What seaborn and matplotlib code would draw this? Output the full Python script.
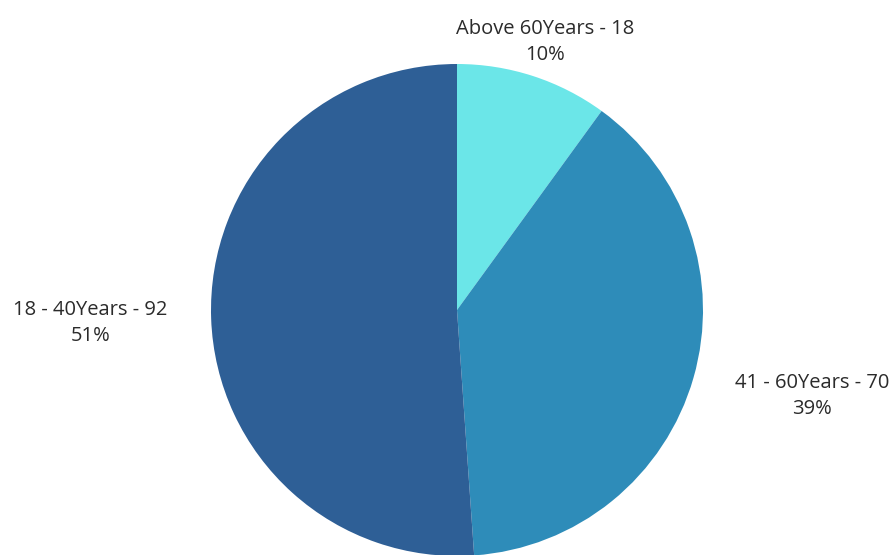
import numpy as np
import matplotlib
matplotlib.use("Agg")
import matplotlib.pyplot as plt
import seaborn as sns

categories = ["Above 60Years", "41 - 60Years", "18 - 40Years"]
values = [18, 70, 92]
colors = ["#6BE6E8", "#2E8CB9", "#2E5F96"]
label_dist = [1.16, 1.50, 1.49]
label_dy = [-0.015, 0.065, 0.0]

sns.set_theme(style="white")
plt.rcParams["font.family"] = ["Open Sans", "DejaVu Sans"]

fig = plt.figure(figsize=(8.93, 5.55), dpi=100)
ax = fig.add_axes([0, 0, 1, 1])
wedges, _ = ax.pie(values, colors=colors, startangle=90, counterclock=False,
                   radius=1.0, wedgeprops=dict(linewidth=0))
total = sum(values)
for w, cat, v, d, dy in zip(wedges, categories, values, label_dist, label_dy):
    mid = np.deg2rad((w.theta1 + w.theta2) / 2)
    x, y = d * np.cos(mid), d * np.sin(mid) + dy
    ax.text(x, y, f"{cat} - {v}\n{round(100*v/total)}%", ha="center", va="center",
            fontsize=14.5, color="#2b2b2b", linespacing=1.42)

scale = 246.0
ax.set_aspect("auto")
ax.set_xlim(-457 / scale, (893 - 457) / scale)
ax.set_ylim(-(555 - 310) / scale, 310 / scale)
ax.axis("off")
fig.savefig("out.png", dpi=100)
